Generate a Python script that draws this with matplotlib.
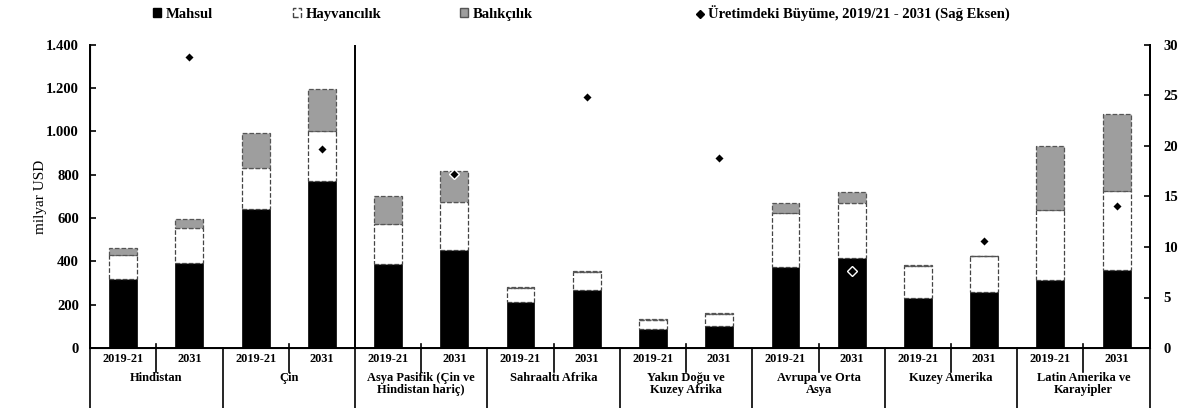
import numpy as np
import matplotlib
matplotlib.use('Agg')
import matplotlib.pyplot as plt
from matplotlib.patches import Patch
from matplotlib.lines import Line2D
import matplotlib.transforms as mtransforms

plt.rcParams['font.family'] = ['Liberation Serif', 'DejaVu Serif']
plt.rcParams['font.weight'] = 'bold'

# data (milyar USD, right axis in %)
regions = ['Hindistan', 'Çin', 'Asya Pasifik (Çin ve\nHindistan hariç)', 'Sahraaltı Afrika',
           'Yakın Doğu ve\nKuzey Afrika', 'Avrupa ve Orta\nAsya', 'Kuzey Amerika',
           'Latin Amerika ve\nKarayipler']
years = ['2019-21', '2031']
mahsul = [317, 391, 642, 772, 387, 453, 214, 268, 88, 103, 376, 417, 233, 260, 314, 360]
hayvancilik = [113, 162, 188, 228, 186, 223, 64, 84, 42, 52, 246, 252, 147, 163, 324, 367]
balikcilik = [33, 43, 162, 195, 127, 143, 5, 5, 3, 5, 47, 52, 4, 4, 297, 354]
buyume = [28.8, 19.7, 17.2, 24.8, 18.8, 7.6, 10.6, 14.1]

n = len(mahsul)
x = np.arange(n)
mahsul = np.array(mahsul)
hayvancilik = np.array(hayvancilik)
balikcilik = np.array(balikcilik)

fig = plt.figure(figsize=(11.96, 4.08), dpi=100)
ax = fig.add_axes([0.0753, 0.147, 0.886, 0.743])
w = 0.42
ax.bar(x, mahsul, w, color='black', edgecolor='black', linewidth=0.5)
ax.bar(x, hayvancilik, w, bottom=mahsul, color='white', edgecolor='#444444',
       linestyle='--', linewidth=0.9)
ax.bar(x, balikcilik, w, bottom=mahsul + hayvancilik, color='#9e9e9e',
       edgecolor='#555555', linestyle='--', linewidth=0.9)

ax.set_xlim(-0.5, n - 0.5)
ax.set_ylim(0, 1400)
ax.set_yticks(np.arange(0, 1401, 200))
ax.set_yticklabels([f'{v:,}'.replace(',', '.') for v in range(0, 1401, 200)], fontsize=10.5)
ax.set_ylabel('milyar USD', fontsize=11)
ax.yaxis.set_label_coords(-0.041, 0.5)
ax.tick_params(axis='y', direction='in', length=4, width=1.2, pad=8)
ax.set_xticks([])
ax.spines['top'].set_visible(False)
for s in ['left', 'bottom', 'right']:
    ax.spines[s].set_linewidth(1.4)

# full-height line between Çin and the rest
ax.axvline(3.5, color='black', lw=1.4)

ax2 = ax.twinx()
ax2.set_ylim(0, 30)
ax2.set_yticks(np.arange(0, 31, 5))
ax2.tick_params(axis='y', direction='in', length=4, width=1.2, labelsize=10.5, pad=10)
ax2.spines['top'].set_visible(False)
ax2.spines['right'].set_linewidth(1.4)
ax2.plot(x[1::2], buyume, linestyle='none', marker='D', markersize=5.5,
         color='black', markeredgecolor='white', markeredgewidth=1.0, zorder=5)

# x axis labels below the plot
trans = mtransforms.blended_transform_factory(ax.transData, ax.transAxes)
for i in range(n):
    ax.text(x[i], -0.035, years[i % 2], transform=trans, ha='center', va='center', fontsize=8.8)
for g in range(len(regions)):
    ax.text(2 * g + 0.5, -0.078, regions[g], transform=trans, ha='center', va='top',
            fontsize=9, linespacing=1.05)
for k in range(n + 1):
    xb = k - 0.5
    if k % 2 == 0:
        ax.plot([xb, xb], [0, -0.2], transform=trans, color='black', lw=1.2, clip_on=False)
    else:
        ax.plot([xb, xb], [0.012, -0.078], transform=trans, color='black', lw=1.2, clip_on=False)

# legend entries placed one by one
items = [
    (Patch(facecolor='black', edgecolor='black'), 'Mahsul', 0.128),
    (Patch(facecolor='white', edgecolor='#444444', linestyle='--'), 'Hayvancılık', 0.245),
    (Patch(facecolor='#9e9e9e', edgecolor='#555555'), 'Balıkçılık', 0.385),
    (Line2D([], [], linestyle='none', marker='D', markersize=4, color='black'),
     'Üretimdeki Büyüme, 2019/21 - 2031 (Sağ Eksen)', 0.582),
]
for h, lab, xpos in items:
    fig.legend([h], [lab], loc='center left', bbox_to_anchor=(xpos, 0.965), frameon=False,
               handlelength=0.55, handleheight=0.55, handletextpad=0.3, fontsize=10.5,
               borderaxespad=0, borderpad=0)

fig.savefig('out.png', dpi=100)
